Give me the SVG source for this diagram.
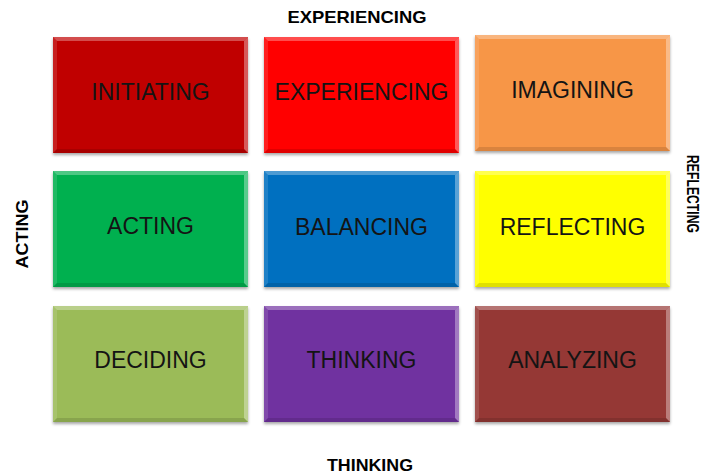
<svg xmlns="http://www.w3.org/2000/svg" width="705" height="476" viewBox="0 0 705 476">
<defs>
<filter id="sh" x="-5%" y="-5%" width="112%" height="115%">
<feDropShadow dx="0" dy="2" stdDeviation="1.5" flood-color="#000" flood-opacity="0.35"/>
</filter>
<g id="bevel">
<polygon points="0,0 195,0 191,4 4,4" fill="#fff" fill-opacity="0.3"/>
<polygon points="195,0 195,116 191,112 191,4" fill="#fff" fill-opacity="0.35"/>
<polygon points="0,0 4,4 4,112 0,116" fill="#fff" fill-opacity="0.12"/>
<polygon points="0,116 4,112 191,112 195,116" fill="#000" fill-opacity="0.12"/>
</g>
</defs>
<style>
.t{font-family:"Liberation Sans",Arial,sans-serif;font-size:23px;fill:#141414;text-anchor:middle}
.ax{font-family:"Liberation Sans",Arial,sans-serif;font-size:17px;font-weight:bold;fill:#000;text-anchor:middle}
</style>
<rect width="705" height="476" fill="#fff"/>
<text class="ax" x="357" y="23" textLength="139" lengthAdjust="spacingAndGlyphs">EXPERIENCING</text>
<text class="ax" x="370" y="471" textLength="86" lengthAdjust="spacingAndGlyphs">THINKING</text>
<text class="ax" transform="translate(28,234) rotate(-90)" x="0" y="0" textLength="69" lengthAdjust="spacingAndGlyphs">ACTING</text>
<text class="ax" transform="translate(687,194) rotate(90)" x="0" y="0" textLength="78" lengthAdjust="spacingAndGlyphs">REFLECTING</text>
<g id="initiating" transform="translate(53,37)"><rect width="195" height="116" fill="#C00000" filter="url(#sh)"/><use href="#bevel"/><text class="t" x="97.5" y="63">INITIATING</text></g>
<g id="experiencing" transform="translate(264,37)"><rect width="195" height="116" fill="#FF0000" filter="url(#sh)"/><use href="#bevel"/><text class="t" x="97.5" y="63">EXPERIENCING</text></g>
<g id="imagining" transform="translate(475,35)"><rect width="195" height="116" fill="#F79646" filter="url(#sh)"/><use href="#bevel"/><text class="t" x="97.5" y="63">IMAGINING</text></g>
<g id="acting" transform="translate(53,171)"><rect width="195" height="116" fill="#00B050" filter="url(#sh)"/><use href="#bevel"/><text class="t" x="97.5" y="63">ACTING</text></g>
<g id="balancing" transform="translate(264,171)"><rect width="195" height="116" fill="#0070C0" filter="url(#sh)"/><use href="#bevel"/><text class="t" x="97.5" y="64">BALANCING</text></g>
<g id="reflecting" transform="translate(475,171)"><rect width="195" height="116" fill="#FFFF00" filter="url(#sh)"/><use href="#bevel"/><text class="t" x="97.5" y="64">REFLECTING</text></g>
<g id="deciding" transform="translate(53,306)"><rect width="195" height="116" fill="#9BBB59" filter="url(#sh)"/><use href="#bevel"/><text class="t" x="97.5" y="62">DECIDING</text></g>
<g id="thinking" transform="translate(264,306)"><rect width="195" height="116" fill="#7030A0" filter="url(#sh)"/><use href="#bevel"/><text class="t" x="97.5" y="62">THINKING</text></g>
<g id="analyzing" transform="translate(475,306)"><rect width="195" height="116" fill="#953735" filter="url(#sh)"/><use href="#bevel"/><text class="t" x="97.5" y="62">ANALYZING</text></g>
</svg>
